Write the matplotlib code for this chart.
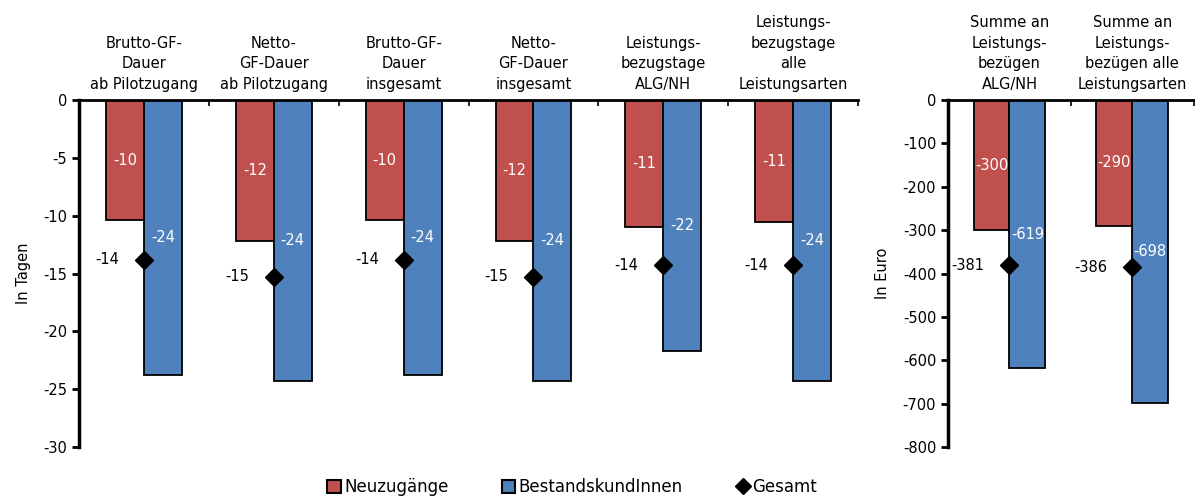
import numpy as np
import matplotlib
matplotlib.use('Agg')
import matplotlib.pyplot as plt
from matplotlib.patches import Patch
from matplotlib.lines import Line2D

# Daten: Tage
tage_kategorien = ['Brutto-GF-\nDauer\nab Pilotzugang', 'Netto-\nGF-Dauer\nab Pilotzugang',
                   'Brutto-GF-\nDauer\ninsgesamt', 'Netto-\nGF-Dauer\ninsgesamt',
                   'Leistungs-\nbezugstage\nALG/NH', 'Leistungs-\nbezugstage\nalle\nLeistungsarten']
tage_neu = [-10.4, -12.2, -10.4, -12.2, -11.0, -10.55]
tage_bestand = [-23.8, -24.3, -23.8, -24.3, -21.7, -24.3]
tage_gesamt = [-13.8, -15.3, -13.8, -15.3, -14.3, -14.3]
tage_ticks = [0, -5, -10, -15, -20, -25, -30]

# Daten: Euro
euro_kategorien = ['Summe an\nLeistungs-\nbezügen\nALG/NH', 'Summe an\nLeistungs-\nbezügen alle\nLeistungsarten']
euro_neu = [-300, -290]
euro_bestand = [-619, -698]
euro_gesamt = [-381, -386]
euro_ticks = [0, -100, -200, -300, -400, -500, -600, -700, -800]

rot = '#C0504D'
blau = '#4F81BD'
fs = 10.5

plt.rcParams['font.family'] = ['DejaVu Sans']
plt.rcParams['axes.unicode_minus'] = False

fig = plt.figure(figsize=(11.95, 4.98), dpi=100)
ax1 = fig.add_axes([0.0661, 0.1024, 0.652, 0.6968])
ax2 = fig.add_axes([0.7933, 0.1024, 0.2057, 0.6968])


def zeichne(ax, kategorien, neu, bestand, gesamt, ticks, ylabel):
    x = np.arange(len(kategorien))
    w = 0.292
    b1 = ax.bar(x - w / 2, neu, w, color=rot, edgecolor='black', linewidth=1.3)
    b2 = ax.bar(x + w / 2, bestand, w, color=blau, edgecolor='black', linewidth=1.3)
    ax.plot(x, gesamt, linestyle='none', marker='D', markersize=9, color='black', zorder=5)

    # Werte in den Balken
    for rect, v in zip(b1, neu):
        ax.text(rect.get_x() + rect.get_width() / 2, v / 2, f'{v:.0f}',
                ha='center', va='center', color='white', fontsize=fs)
    for rect, v in zip(b2, bestand):
        ax.text(rect.get_x() + rect.get_width() / 2, v / 2, f'{v:.0f}',
                ha='center', va='center', color='white', fontsize=fs)
    for xi, v in zip(x, gesamt):
        ax.annotate(f'{v:.0f}', (xi, v), xytext=(-18, 0), textcoords='offset points',
                    ha='right', va='center', fontsize=fs)

    # Kategorien oben
    for xi, k in zip(x, kategorien):
        ax.annotate(k, (xi, 0), xytext=(0, 6), textcoords='offset points',
                    ha='center', va='bottom', fontsize=fs, linespacing=1.45,
                    annotation_clip=False)

    ax.set_xlim(-0.5, len(kategorien) - 0.5)
    ax.set_ylim(ticks[-1], 0)
    ax.set_yticks(ticks)
    ax.set_xticks(np.arange(len(kategorien) + 1) - 0.5)
    ax.set_xticklabels([])
    ax.xaxis.set_ticks_position('top')
    ax.tick_params(axis='x', direction='in', length=4, width=1.2)
    ax.tick_params(axis='y', direction='out', length=5, width=2, labelsize=fs)
    ax.spines['right'].set_visible(False)
    ax.spines['bottom'].set_visible(False)
    ax.spines['top'].set_linewidth(2)
    ax.spines['left'].set_linewidth(2.5)
    ax.set_ylabel(ylabel, fontsize=fs, labelpad=9)


zeichne(ax1, tage_kategorien, tage_neu, tage_bestand, tage_gesamt, tage_ticks, 'In Tagen')
zeichne(ax2, euro_kategorien, euro_neu, euro_bestand, euro_gesamt, euro_ticks, 'In Euro')

# Legende
handles = [Patch(facecolor=rot, edgecolor='black', linewidth=1.5),
           Patch(facecolor=blau, edgecolor='black', linewidth=1.5),
           Line2D([], [], linestyle='none', marker='D', markersize=8, color='black')]
fig.legend(handles, ['Neuzugänge', 'BestandskundInnen', 'Gesamt'], loc='lower center',
           bbox_to_anchor=(0.479, -0.026), ncol=3, frameon=False, fontsize=fs + 1.5,
           handlelength=0.8, handleheight=0.8, handletextpad=0.2, columnspacing=3.2)

fig.savefig('out.png', dpi=100)
